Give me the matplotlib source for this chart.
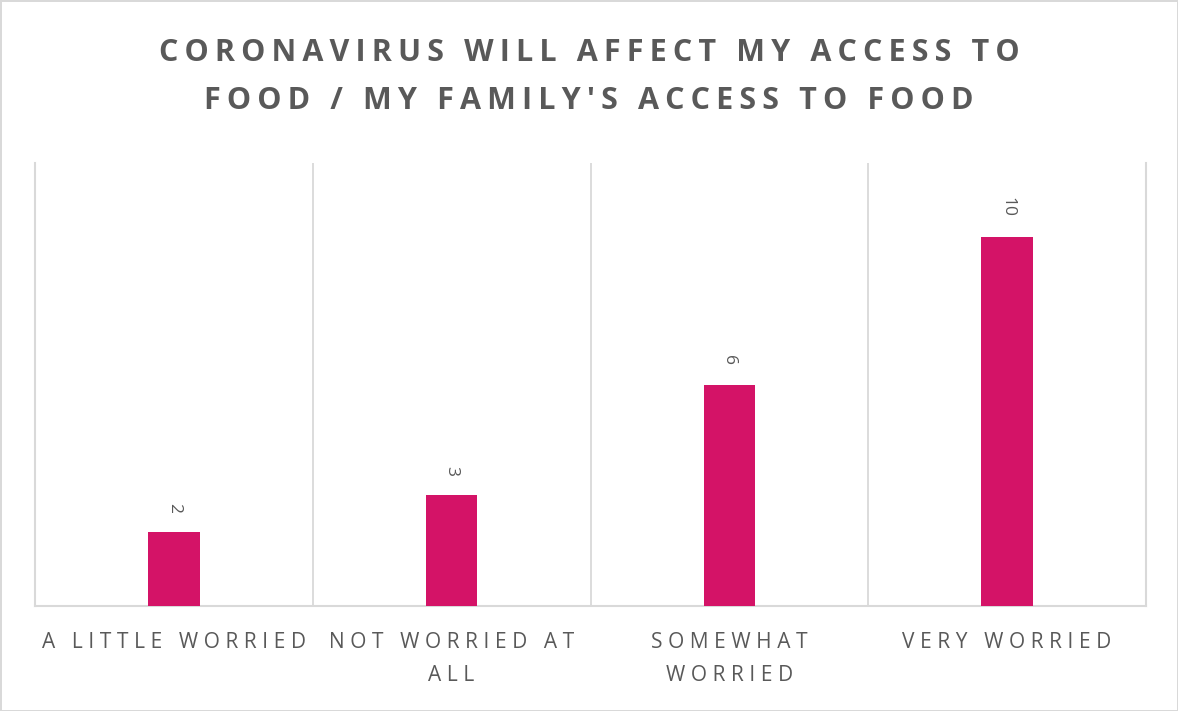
import matplotlib
matplotlib.use("Agg")
import matplotlib.pyplot as plt

categories = ["A LITTLE WORRIED", "NOT WORRIED AT\nALL", "SOMEWHAT\nWORRIED", "VERY WORRIED"]
values = [2, 3, 6, 10]
title = "CORONAVIRUS WILL AFFECT MY ACCESS TO\nFOOD / MY FAMILY'S ACCESS TO FOOD"

BAR_COLOR = "#d41367"
TEXT_COLOR = "#595959"
GRID_COLOR = "#d9d9d9"
FONT = ["Open Sans", "DejaVu Sans"]


def spaced(text, gap="\u2009"):
    """Widen letter spacing by putting narrow spaces between characters."""
    return "\n".join(gap.join(line) for line in text.split("\n"))


fig = plt.figure(figsize=(11.78, 7.11), dpi=100)
fig.patch.set_facecolor("white")
fig.patch.set_edgecolor(GRID_COLOR)
fig.patch.set_linewidth(2)

ax = fig.add_axes([35 / 1178, 1 - 606 / 711, (1146 - 35) / 1178, (606 - 163) / 711])
x = list(range(len(categories)))
bars = ax.bar(x, values, width=0.185, color=BAR_COLOR, zorder=3)

ax.set_xlim(-0.5, len(categories) - 0.5)
ax.set_ylim(0, 12)

# category separators
for sep in [i + 0.5 for i in range(len(categories) - 1)]:
    ax.axvline(sep, color=GRID_COLOR, lw=1.3, zorder=1)
for side in ["left", "right", "bottom"]:
    ax.spines[side].set_color(GRID_COLOR)
    ax.spines[side].set_linewidth(1.5)
ax.spines["top"].set_visible(False)

ax.set_yticks([])
ax.set_xticks(x)
ax.set_xticklabels([spaced(c, "\u2009\u200a") for c in categories], family=FONT,
                   fontsize=15, color=TEXT_COLOR, linespacing=1.75)
ax.tick_params(axis="x", length=0, pad=19)

for xi, v in zip(x, values):
    ax.annotate(str(v), (xi, v), xytext=(0, 14), textcoords="offset points",
                rotation=-90, ha="center", va="bottom", fontsize=12.5,
                color=TEXT_COLOR, family=FONT)

fig.text(0.5, 1 - 77 / 711, spaced(title), ha="center", va="center",
         fontsize=22, fontweight="bold", color=TEXT_COLOR, family=FONT,
         linespacing=1.75)

fig.savefig("out.png", dpi=100, facecolor=fig.get_facecolor(), edgecolor=fig.get_edgecolor())
